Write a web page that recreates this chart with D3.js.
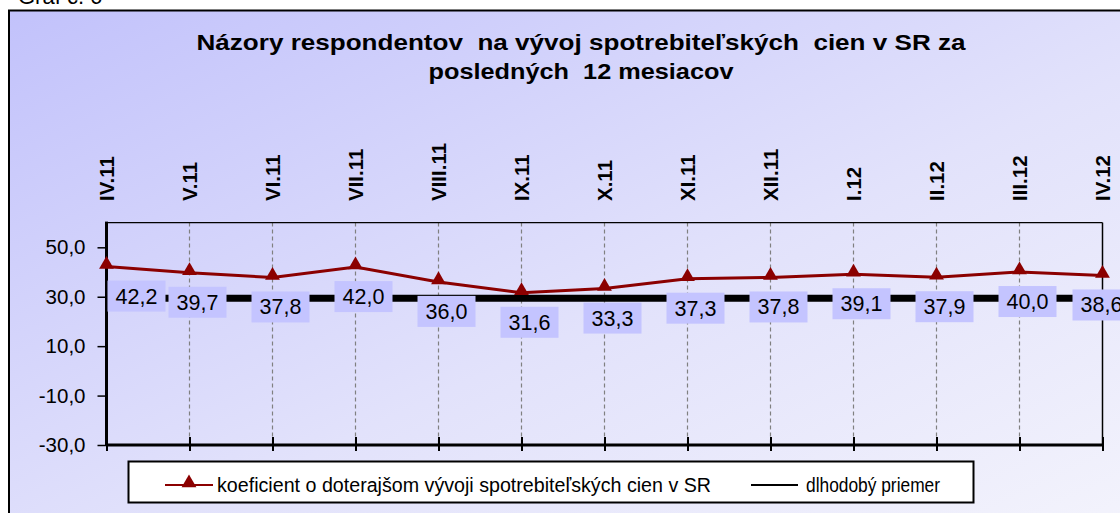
<!DOCTYPE html>
<html>
<head>
<meta charset="utf-8">
<script src="https://cdn.jsdelivr.net/npm/d3@7"></script>
<style>
  body { margin: 0; background: #fff; }
  svg { display: block; font-family: "Liberation Sans", Arial, sans-serif; }
</style>
</head>
<body>
<div id="chart"></div>
<script>
// data
var months = ["IV.11", "V.11", "VI.11", "VII.11", "VIII.11", "IX.11", "X.11", "XI.11", "XII.11", "I.12", "II.12", "III.12", "IV.12"];
var koeficient = [42.2, 39.7, 37.8, 42.0, 36.0, 31.6, 33.3, 37.3, 37.8, 39.1, 37.9, 40.0, 38.6];
var priemer = 29.4;
var yTicks = [-30, -10, 10, 30, 50];
var titleLines = ["Názory respondentov  na vývoj spotrebiteľských  cien v SR za", "posledných  12 mesiacov"];
var legendNames = ["koeficient o doterajšom vývoji spotrebiteľských cien v SR", "dlhodobý priemer"];

var W = 1120, H = 513;
var pLeft = 106.5, pRight = 1102.5, pTop = 222.6, pBottom = 445;

var sk = d3.formatLocale({ decimal: ",", thousands: " ", grouping: [3], currency: ["", " €"], minus: "-" });
var fmt = sk.format(".1f");

var svg = d3.select("#chart").append("svg")
  .attr("width", W).attr("height", H);

var defs = svg.append("defs");
var grad = defs.append("linearGradient").attr("id", "bg")
  .attr("x1", 0).attr("y1", 0).attr("x2", 1).attr("y2", 1);
grad.append("stop").attr("offset", "0%").attr("stop-color", "#c2c2fb");
grad.append("stop").attr("offset", "55%").attr("stop-color", "#e2e2fb");
grad.append("stop").attr("offset", "100%").attr("stop-color", "#f4f4fc");

// caption above frame (cut off)
svg.append("text").attr("x", 18).attr("y", 4)
  .style("font-size", "22px").text("Graf č. 6");

// outer frame
svg.append("rect")
  .attr("x", 9).attr("y", 10.5)
  .attr("width", W + 20).attr("height", H + 20)
  .attr("fill", "url(#bg)")
  .attr("stroke", "#000").attr("stroke-width", 2);

// title
var titleW = [769, 305];
svg.selectAll(".title").data(titleLines).enter().append("text")
  .attr("class", "title")
  .attr("x", function (d, i) { return 581 - titleW[i] / 2; })
  .attr("y", function (d, i) { return 50 + i * 29; })
  .attr("textLength", function (d, i) { return titleW[i]; })
  .attr("lengthAdjust", "spacingAndGlyphs")
  .style("white-space", "pre")
  .style("font-size", "21.5px").style("font-weight", "bold")
  .text(function (d) { return d; });

var x = d3.scalePoint().domain(months).range([pLeft, pRight]);
var y = d3.scaleLinear().domain([-30, 60]).range([pBottom, pTop]);

// vertical dashed gridlines
svg.append("g")
  .selectAll("line").data(months.slice(1, -1)).enter().append("line")
  .attr("x1", function (d) { return x(d); }).attr("x2", function (d) { return x(d); })
  .attr("y1", pTop).attr("y2", pBottom)
  .attr("stroke", "#808080").attr("stroke-width", 1.2)
  .attr("stroke-dasharray", "4,3");

// plot border top/right
svg.append("line").attr("x1", pLeft).attr("x2", pRight).attr("y1", pTop).attr("y2", pTop)
  .attr("stroke", "#000").attr("stroke-width", 1.2);
svg.append("line").attr("x1", pRight).attr("x2", pRight).attr("y1", pTop).attr("y2", pBottom)
  .attr("stroke", "#000").attr("stroke-width", 1.5);

// y axis
var yAxis = svg.append("g")
  .attr("transform", "translate(" + pLeft + ",0)")
  .call(d3.axisLeft(y).tickValues(yTicks).tickSize(9).tickPadding(12).tickFormat(fmt));
yAxis.select(".domain").remove();
yAxis.selectAll(".tick line").attr("stroke", "#000").attr("stroke-width", 1.5);
yAxis.selectAll("text").style("font-size", "20.5px").style("font-family", "Liberation Sans, Arial, sans-serif").attr("fill", "#000");
svg.append("line").attr("x1", pLeft).attr("x2", pLeft).attr("y1", pTop - 1).attr("y2", pBottom)
  .attr("stroke", "#000").attr("stroke-width", 3);

// x axis at bottom, ticks crossing
var xAxis = svg.append("g")
  .attr("transform", "translate(0," + pBottom + ")")
  .call(d3.axisBottom(x).tickSizeInner(6).tickSizeOuter(0).tickFormat(""));
xAxis.select(".domain").remove();
xAxis.selectAll(".tick line").attr("y1", -8).attr("y2", 6).attr("stroke", "#000").attr("stroke-width", 2);
svg.append("line").attr("x1", pLeft).attr("x2", pRight).attr("y1", pBottom).attr("y2", pBottom)
  .attr("stroke", "#000").attr("stroke-width", 3);

// category labels on top, rotated
svg.append("g").selectAll("text").data(months).enter().append("text")
  .attr("transform", function (d) { return "translate(" + (x(d) + 7.5) + ",201) rotate(-90)"; })
  .attr("text-anchor", "start")
  .style("font-size", "20.5px").style("font-weight", "bold")
  .text(function (d) { return d; });

// long-term average
svg.append("line")
  .attr("x1", pLeft).attr("x2", pRight)
  .attr("y1", y(priemer)).attr("y2", y(priemer))
  .attr("stroke", "#000").attr("stroke-width", 7);

// series line
svg.append("path")
  .datum(koeficient)
  .attr("fill", "none").attr("stroke", "#8b0000").attr("stroke-width", 3)
  .attr("d", d3.line()
    .x(function (d, i) { return x(months[i]); })
    .y(function (d) { return y(d); }));

// data labels
var lab = svg.append("g").selectAll("g").data(koeficient).enter().append("g")
  .attr("transform", function (d, i) {
    var cx = x(months[i]) + 8;
    if (i === 0) cx = pLeft + 30;
    if (i === months.length - 1) cx = x(months[i]) - 1;
    return "translate(" + cx + "," + (y(d) + 14) + ")";
  });
lab.append("rect").attr("x", -29).attr("y", 0).attr("width", 58).attr("height", 31)
  .attr("fill", "#c4c4ff");
lab.append("text").attr("x", 0).attr("y", 23)
  .attr("text-anchor", "middle")
  .style("font-size", "21.5px")
  .text(function (d) { return fmt(d); });

// markers
var tri = d3.symbol().type(d3.symbolTriangle).size(95);
svg.append("g").selectAll("path").data(koeficient).enter().append("path")
  .attr("d", tri)
  .attr("transform", function (d, i) { return "translate(" + x(months[i]) + "," + (y(d) - 2) + ")"; })
  .attr("fill", "#8b0000");

// legend
var lg = svg.append("g");
lg.append("rect").attr("x", 128.5).attr("y", 461.5).attr("width", 845).attr("height", 41)
  .attr("fill", "#fff").attr("stroke", "#000").attr("stroke-width", 2);
lg.append("line").attr("x1", 165).attr("x2", 213).attr("y1", 485).attr("y2", 485)
  .attr("stroke", "#8b0000").attr("stroke-width", 2);
lg.append("path").attr("d", tri).attr("transform", "translate(189,483)").attr("fill", "#8b0000");
lg.append("text").attr("x", 217).attr("y", 492)
  .attr("textLength", 494).attr("lengthAdjust", "spacingAndGlyphs")
  .style("font-size", "20px").text(legendNames[0]);
lg.append("line").attr("x1", 751).attr("x2", 798).attr("y1", 485).attr("y2", 485)
  .attr("stroke", "#000").attr("stroke-width", 2);
lg.append("text").attr("x", 806).attr("y", 492)
  .attr("textLength", 134).attr("lengthAdjust", "spacingAndGlyphs")
  .style("font-size", "20px").text(legendNames[1]);
</script>
</body>
</html>
